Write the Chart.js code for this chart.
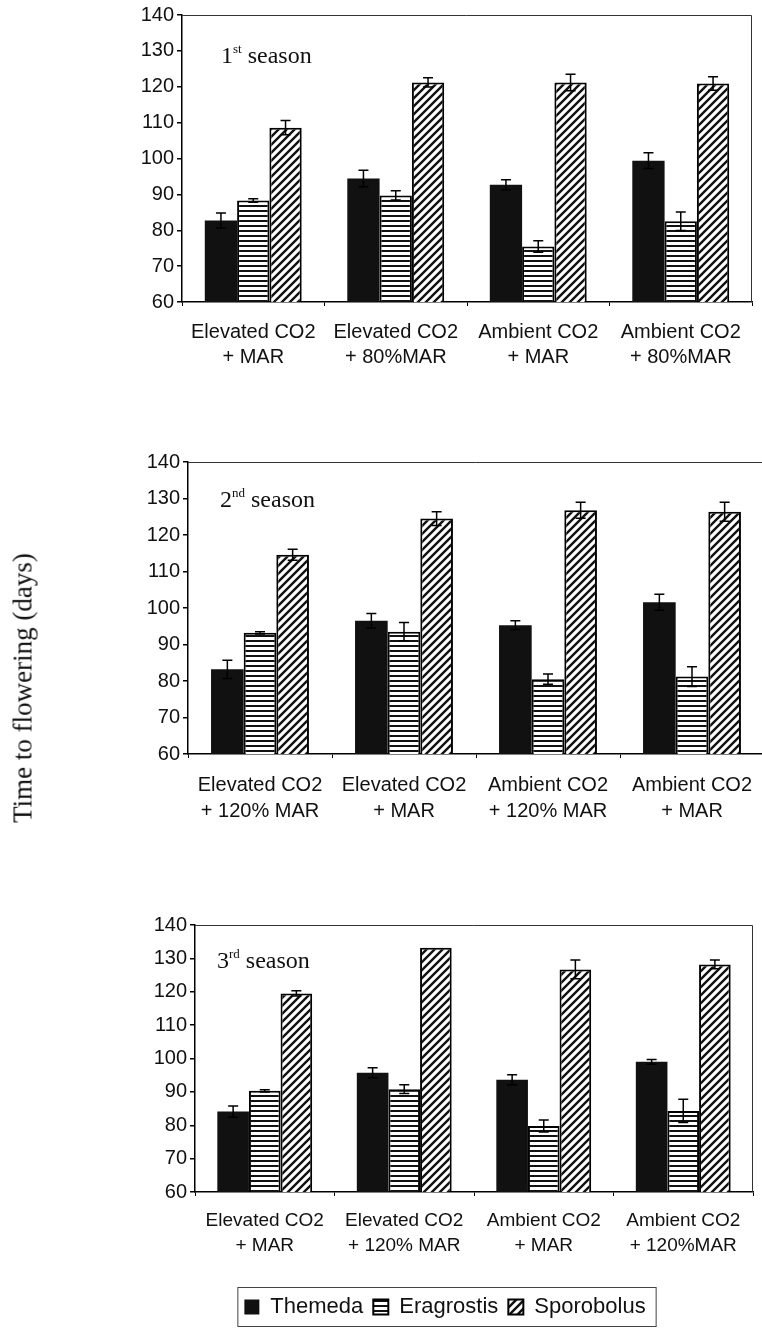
<!DOCTYPE html>
<html>
<head>
<meta charset="utf-8">
<script src="https://cdn.jsdelivr.net/npm/chart.js@4.4.1/dist/chart.umd.min.js"></script>
<style>
  html, body { margin: 0; padding: 0; background: #fff; }
  body { width: 762px; height: 1328px; position: relative; overflow: hidden; }
  canvas { position: absolute; left: 0; }
  .season {
    position: absolute;
    font-family: "Liberation Serif", "Times New Roman", serif;
    font-size: 24px;
    line-height: 24px;
    color: #111;
    white-space: nowrap;
  }
  .season sup { font-size: 13px; line-height: 0; vertical-align: 10px; }
  #ytitle {
    position: absolute;
    left: 23px;
    top: 688px;
    font-family: "Liberation Serif", "Times New Roman", serif;
    font-size: 27px;
    color: #111;
    white-space: nowrap;
    transform: translate(-50%, -50%) rotate(-90deg);
  }
</style>
</head>
<body>
<canvas id="chart1" width="762" height="390" style="top:0px"></canvas>
<canvas id="chart2" width="772" height="410" style="top:420px"></canvas>
<canvas id="chart3" width="762" height="448" style="top:880px"></canvas>

<div class="season" style="left:221px; top:43px">1<sup>st</sup> season</div>
<div class="season" style="left:220px; top:487px">2<sup>nd</sup> season</div>
<div class="season" style="left:217px; top:948px">3<sup>rd</sup> season</div>
<div id="ytitle">Time to flowering (days)</div>

<script>
const seriesNames = ["Themeda", "Eragrostis", "Sporobolus"];
const yTicks = [60, 70, 80, 90, 100, 110, 120, 130, 140];

// 1st season
const categories1 = [["Elevated CO2", "+ MAR"], ["Elevated CO2", "+ 80%MAR"], ["Ambient CO2", "+ MAR"], ["Ambient CO2", "+ 80%MAR"]];
const themeda1 = [82.7, 94.4, 92.7, 99.4];
const themeda1Err = [2.1, 2.3, 1.4, 2.2];
const eragrostis1 = [88.3, 89.7, 75.5, 82.5];
const eragrostis1Err = [0.5, 1.3, 1.6, 2.6];
const sporobolus1 = [108.6, 121.2, 121.2, 120.9];
const sporobolus1Err = [2.0, 1.3, 2.3, 1.9];

// 2nd season
const categories2 = [["Elevated CO2", "+ 120% MAR"], ["Elevated CO2", "+ MAR"], ["Ambient CO2", "+ 120% MAR"], ["Ambient CO2", "+ MAR"]];
const themeda2 = [83.2, 96.5, 95.3, 101.6];
const themeda2Err = [2.5, 2.0, 1.2, 2.2];
const eragrostis2 = [93.2, 93.5, 80.5, 81.2];
const eragrostis2Err = [0.3, 2.5, 1.4, 2.7];
const sporobolus2 = [114.6, 124.5, 126.8, 126.4];
const sporobolus2Err = [1.5, 1.9, 2.2, 2.6];

// 3rd season
const categories3 = [["Elevated CO2", "+ MAR"], ["Elevated CO2", "+ 120% MAR"], ["Ambient CO2", "+ MAR"], ["Ambient CO2", "+ 120%MAR"]];
const themeda3 = [84.1, 95.7, 93.6, 99.0];
const themeda3Err = [1.7, 1.5, 1.5, 0.7];
const eragrostis3 = [90.3, 90.8, 79.8, 84.3];
const eragrostis3Err = [0.3, 1.3, 1.8, 3.5];
const sporobolus3 = [119.5, 133.2, 126.7, 128.2];
const sporobolus3Err = [0.8, 0, 2.8, 1.3];

const sansFont = "'Liberation Sans', Arial, sans-serif";

function stripePattern() {
  const c = document.createElement("canvas");
  c.width = 4;
  c.height = 5;
  const g = c.getContext("2d");
  g.fillStyle = "#fff";
  g.fillRect(0, 0, 4, 5);
  g.fillStyle = "#111";
  g.fillRect(0, 0, 4, 2);
  return g.createPattern(c, "repeat");
}

function hatchPattern() {
  const s = 8;
  const c = document.createElement("canvas");
  c.width = s;
  c.height = s;
  const g = c.getContext("2d");
  g.fillStyle = "#fff";
  g.fillRect(0, 0, s, s);
  g.strokeStyle = "#111";
  g.lineWidth = 2.4;
  g.beginPath();
  g.moveTo(0, s); g.lineTo(s, 0);
  g.moveTo(-s / 2, s / 2); g.lineTo(s / 2, -s / 2);
  g.moveTo(s / 2, s * 1.5); g.lineTo(s * 1.5, s / 2);
  g.stroke();
  return g.createPattern(c, "repeat");
}

const fills = ["#111", stripePattern(), hatchPattern()];

const errorBars = {
  id: "errorBars",
  afterDatasetsDraw(chart) {
    const { ctx } = chart;
    const y = chart.scales.y;
    ctx.save();
    ctx.strokeStyle = "#000";
    ctx.lineWidth = 1.5;
    chart.data.datasets.forEach((ds, di) => {
      const meta = chart.getDatasetMeta(di);
      ds.errors.forEach((e, i) => {
        if (!e) return;
        const x = meta.data[i].x;
        const top = y.getPixelForValue(ds.data[i] + e);
        const bottom = y.getPixelForValue(ds.data[i] - e);
        ctx.beginPath();
        ctx.moveTo(x, top); ctx.lineTo(x, bottom);
        ctx.moveTo(x - 5, top); ctx.lineTo(x + 5, top);
        ctx.moveTo(x - 5, bottom); ctx.lineTo(x + 5, bottom);
        ctx.stroke();
      });
    });
    ctx.restore();
  },
};

const frame = {
  id: "frame",
  afterDraw(chart) {
    const { ctx, chartArea: a } = chart;
    ctx.save();
    ctx.strokeStyle = "#333";
    ctx.lineWidth = 1;
    ctx.beginPath();
    ctx.moveTo(a.left, a.top + 0.5);
    ctx.lineTo(a.right - 0.5, a.top + 0.5);
    ctx.lineTo(a.right - 0.5, a.bottom);
    ctx.stroke();
    if (chart.options.plugins.legend.display) {
      const boxes = chart.legend.legendHitBoxes;
      const left = Math.min(...boxes.map((b) => b.left)) - 7;
      const right = Math.max(...boxes.map((b) => b.left + b.width)) + 10;
      const top = Math.min(...boxes.map((b) => b.top)) - 9;
      const bottom = Math.max(...boxes.map((b) => b.top + b.height)) + 8;
      ctx.strokeStyle = "#444";
      ctx.strokeRect(left + 0.5, top + 0.5, right - left, bottom - top);
    }
    ctx.restore();
  },
};

function makeChart(id, cfg) {
  const datasets = cfg.values.map((vals, k) => ({
    label: seriesNames[k],
    data: vals,
    errors: cfg.errors[k],
    backgroundColor: fills[k],
    borderColor: "#000",
    borderWidth: k === 0 ? 0 : 2,
    categoryPercentage: 0.68,
    barPercentage: 1.0,
  }));

  return new Chart(document.getElementById(id), {
    type: "bar",
    data: { labels: cfg.labels, datasets },
    plugins: [errorBars, frame],
    options: {
      responsive: false,
      animation: false,
      layout: { padding: cfg.padding },
      plugins: {
        legend: {
          display: !!cfg.legend,
          position: "bottom",
          labels: {
            color: "#111",
            font: { family: sansFont, size: 22 },
            boxWidth: 15,
            boxHeight: 15,
            padding: 10,
          },
        },
        tooltip: { enabled: false },
      },
      scales: {
        x: {
          ticks: {
            color: "#111",
            font: { family: sansFont, size: cfg.xFont, lineHeight: cfg.xLine },
            padding: cfg.xPad,
            maxRotation: 0,
            autoSkip: false,
          },
          grid: { drawOnChartArea: false, offset: true, tickLength: 4, color: "#000" },
          border: { color: "#000", width: 1.5 },
          afterFit(scale) { scale.height = cfg.xHeight; },
        },
        y: {
          min: 60,
          max: 140,
          afterBuildTicks(scale) { scale.ticks = yTicks.map((v) => ({ value: v })); },
          ticks: { color: "#111", font: { family: sansFont, size: 20 }, padding: 3 },
          grid: { drawOnChartArea: false, tickLength: 5, color: "#000", lineWidth: 1.5 },
          border: { color: "#000", width: 1.5 },
          afterFit(scale) { scale.width = cfg.yWidth; },
        },
      },
    },
  });
}

makeChart("chart1", {
  labels: categories1,
  values: [themeda1, eragrostis1, sporobolus1],
  errors: [themeda1Err, eragrostis1Err, sporobolus1Err],
  padding: { top: 15, right: 10, left: 0, bottom: 0 },
  yWidth: 182,
  xHeight: 88,
  xFont: 20, xLine: 1.25, xPad: 14,
});

makeChart("chart2", {
  labels: categories2,
  values: [themeda2, eragrostis2, sporobolus2],
  errors: [themeda2Err, eragrostis2Err, sporobolus2Err],
  padding: { top: 42, right: 8, left: 0, bottom: 0 },
  yWidth: 188,
  xHeight: 76,
  xFont: 20, xLine: 1.3, xPad: 14,
});

makeChart("chart3", {
  labels: categories3,
  values: [themeda3, eragrostis3, sporobolus3],
  errors: [themeda3Err, eragrostis3Err, sporobolus3Err],
  padding: { top: 45, right: 9, left: 137, bottom: 0 },
  yWidth: 58,
  xHeight: 94,
  xFont: 19, xLine: 1.32, xPad: 12,
  legend: true,
});
</script>
</body>
</html>
